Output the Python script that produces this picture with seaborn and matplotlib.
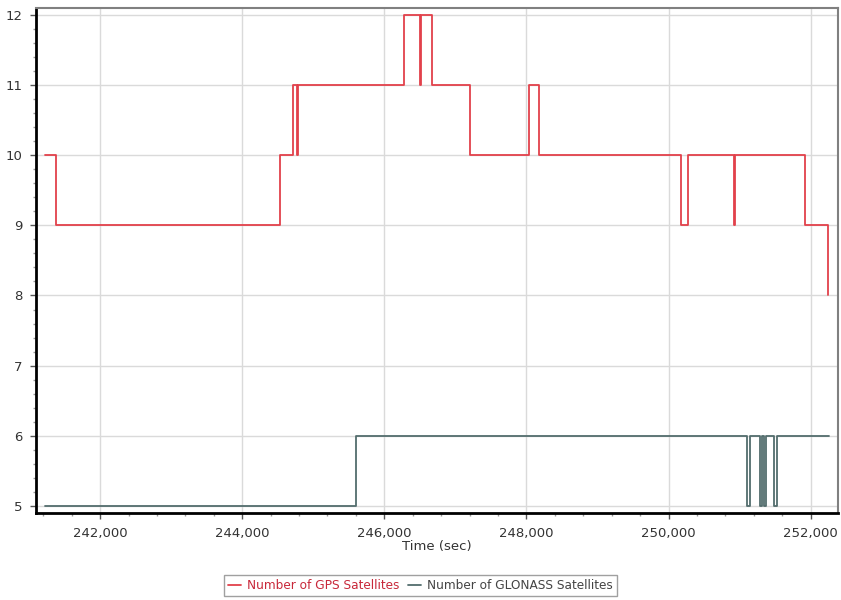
"""
Satellite count over time: GPS vs GLONASS, step plot.
"""

import matplotlib
matplotlib.use("Agg")
import matplotlib.pyplot as plt
import pandas as pd
import seaborn as sns
from matplotlib.lines import Line2D
from matplotlib.ticker import FuncFormatter, MultipleLocator

# step change points (time in sec, satellite count)
gps_time = [241227, 241381, 244531, 244714, 244770, 244790, 246275, 246500,
            246514, 246677, 247202, 248032, 248176, 250178, 250270, 250928,
            250936, 251926, 252240]
gps_count = [10, 9, 10, 11, 10, 11, 12, 11, 12, 11, 10, 11, 10, 9, 10, 9,
             10, 9, 8]

glonass_time = [241227, 245595, 251106, 251153, 251288, 251321, 251342,
                251373, 251490, 251533, 252264]
glonass_count = [5, 6, 5, 6, 5, 6, 5, 6, 5, 6, 6]

GPS_LABEL = "Number of GPS Satellites"
GLO_LABEL = "Number of GLONASS Satellites"
GPS_COLOR = "#e2414b"
GLO_COLOR = "#536d6d"

df = pd.concat([
    pd.DataFrame({"time": gps_time, "count": gps_count, "series": GPS_LABEL}),
    pd.DataFrame({"time": glonass_time, "count": glonass_count, "series": GLO_LABEL}),
])

sns.set_theme(style="whitegrid")
plt.rcParams["font.family"] = ["DejaVu Sans"]

fig = plt.figure(figsize=(8.41, 6.0), dpi=100)
ax = fig.add_axes([0.043, 0.145, 0.953, 0.842])

sns.lineplot(data=df, x="time", y="count", hue="series",
             palette={GPS_LABEL: GPS_COLOR, GLO_LABEL: GLO_COLOR},
             estimator=None, drawstyle="steps-post", linewidth=1.3,
             legend=False, ax=ax)

ax.set_xlim(241100, 252380)
ax.set_ylim(4.9, 12.1)
ax.xaxis.set_major_locator(MultipleLocator(2000))
ax.xaxis.set_minor_locator(MultipleLocator(400))
ax.yaxis.set_major_locator(MultipleLocator(1))
ax.yaxis.set_minor_locator(MultipleLocator(0.2))
ax.xaxis.set_major_formatter(FuncFormatter(lambda v, p: f"{v:,.0f}"))

ax.grid(True, which="major", color="#dadada", linewidth=1.0)
ax.grid(False, which="minor")
ax.set_facecolor("white")

for side in ("left", "bottom"):
    ax.spines[side].set_color("black")
    ax.spines[side].set_linewidth(2.0)
for side in ("top", "right"):
    ax.spines[side].set_color("#808080")
    ax.spines[side].set_linewidth(1.5)

ax.tick_params(axis="both", which="major", direction="out", length=4,
               width=1, color="#555555", labelsize=9.5, labelcolor="#333333",
               left=True, bottom=True, pad=6)
ax.tick_params(axis="both", which="minor", direction="out", length=2,
               width=1, color="#999999", left=True, bottom=True)

ax.set_xlabel("Time (sec)", fontsize=9.5, color="#333333", labelpad=0)
ax.set_ylabel("")

handles = [Line2D([], [], color=GPS_COLOR, lw=1.3),
           Line2D([], [], color=GLO_COLOR, lw=1.3)]
leg = fig.legend(handles, [GPS_LABEL, GLO_LABEL], loc="lower center",
                 bbox_to_anchor=(0.5, -0.004), ncol=2, fontsize=8.7,
                 frameon=True, fancybox=False, handlelength=1.1,
                 handletextpad=0.5, columnspacing=0.7, borderpad=0.35)
leg.get_frame().set_edgecolor("#888888")
leg.get_frame().set_linewidth(1.0)
leg.get_texts()[0].set_color("#c8283a")
leg.get_texts()[1].set_color("#444444")

fig.savefig("out.png", dpi=100)
